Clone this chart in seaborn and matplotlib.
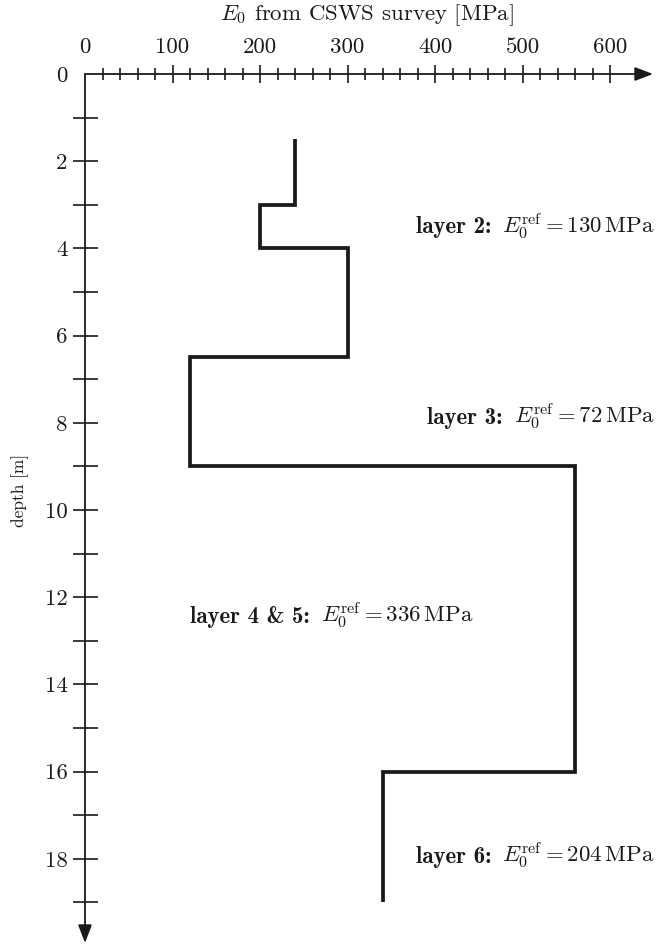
import matplotlib
matplotlib.use("Agg")
import matplotlib.pyplot as plt
from matplotlib.offsetbox import TextArea, HPacker, AnnotationBbox
import seaborn as sns
import pandas as pd

# ---- data ----
seg_top = [1.5, 3, 4, 6.5, 9, 16]          # depth [m] of segment top
seg_bottom = [3, 4, 6.5, 9, 16, 19]        # depth [m] of segment bottom
E0_values = [240, 200, 300, 120, 560, 340]  # E0 [MPa]

layer_names = ["layer 2:", "layer 3:", "layer 4 & 5:", "layer 6:"]
E_ref = [130, 72, 336, 204]

x_major = [0, 100, 200, 300, 400, 500, 600]
y_major = [0, 2, 4, 6, 8, 10, 12, 14, 16, 18]

# ---- style ----
sns.set_theme(style="white")
plt.rcParams["font.family"] = ["cmr10", "DejaVu Serif"]
plt.rcParams["mathtext.fontset"] = "cm"
plt.rcParams["axes.formatter.use_mathtext"] = True
FS = 16.5
FS_Y = 12.5
INK = "#1a1a1a"

depth, E = [], []
for t, b, v in zip(seg_top, seg_bottom, E0_values):
    depth += [t, b]
    E += [v, v]
df = pd.DataFrame({"E0": E, "depth": depth})

W, H = 657, 944
fig = plt.figure(figsize=(W / 100, H / 100), dpi=100)
ax = fig.add_axes([85 / W, 1 - 943 / H, (653 - 85) / W, (943 - 74) / H])

sns.lineplot(data=df, x="E0", y="depth", sort=False, estimator=None,
             color=INK, linewidth=2.7, ax=ax)
for l in ax.lines:
    l.set_solid_joinstyle("miter")
    l.set_solid_capstyle("butt")
    l.set_clip_on(False)

ax.set_xlim(0, 649)
ax.set_ylim(19.93, 0)
ax.set_xlabel("")
ax.set_ylabel("")

for s in ax.spines.values():
    s.set_visible(False)

# axes arrows
arrow_kw = dict(arrowstyle="-|>,head_length=1.1,head_width=0.42", color=INK,
                lw=1.3, shrinkA=0, shrinkB=0, mutation_scale=10)
ax.annotate("", xy=(1, 1), xytext=(0, 1), xycoords="axes fraction",
            arrowprops=arrow_kw, annotation_clip=False)
ax.annotate("", xy=(0, 0), xytext=(0, 1), xycoords="axes fraction",
            arrowprops=arrow_kw, annotation_clip=False)

# ticks
ax.xaxis.tick_top()
ax.set_xticks(x_major)
ax.set_xticklabels([str(v) for v in x_major])
ax.set_xticks([v for v in range(0, 601, 20) if v % 100 != 0], minor=True)
ax.set_yticks(y_major)
ax.set_yticklabels([str(v) for v in y_major])
ax.set_yticks([v for v in range(1, 20, 2)], minor=True)

ax.tick_params(axis="x", which="major", direction="inout", length=13, width=1.2,
               color=INK, pad=6, labelsize=FS, top=True, bottom=False,
               labeltop=True, labelbottom=False, labelcolor=INK)
ax.tick_params(axis="x", which="minor", direction="inout", length=9, width=1.2,
               color=INK, top=True, bottom=False)
ax.tick_params(axis="y", which="both", direction="inout", length=18, width=1.2,
               color=INK, pad=3.5, labelsize=FS, left=True, right=False,
               labelcolor=INK)
ax.xaxis.get_major_ticks()[0].tick2line.set_visible(False)
ax.yaxis.get_major_ticks()[0].tick1line.set_visible(False)

# axis labels
fig.text(367 / W, 1 - 15 / H, r"$E_0$ from CSWS survey [MPa]", ha="center",
         va="center", fontsize=FS, color=INK)
fig.text(20 / W, 1 - 490 / H, "depth [m]", rotation=90, ha="center",
         va="center", fontsize=FS_Y, color=INK)

# layer annotations
label_x = [651, 651, 120, 651]
label_y = [3.5, 7.87, 12.43, 17.94]
label_align = [(1, 0.5), (1, 0.5), (0, 0.5), (1, 0.5)]
for name, ref, x, y, al in zip(layer_names, E_ref, label_x, label_y, label_align):
    t1 = TextArea(name, textprops=dict(family="cmb10", fontsize=FS, color=INK))
    t2 = TextArea(r"$E_0^{\mathrm{ref}} = " + str(ref) + r"\,\mathrm{MPa}$",
                  textprops=dict(fontsize=FS, color=INK))
    box = HPacker(children=[t1, t2], align="baseline", pad=0, sep=8)
    ab = AnnotationBbox(box, (x, y), xycoords="data", frameon=False,
                        box_alignment=al, pad=0, annotation_clip=False)
    ax.add_artist(ab)

fig.savefig("out.png", dpi=100)
